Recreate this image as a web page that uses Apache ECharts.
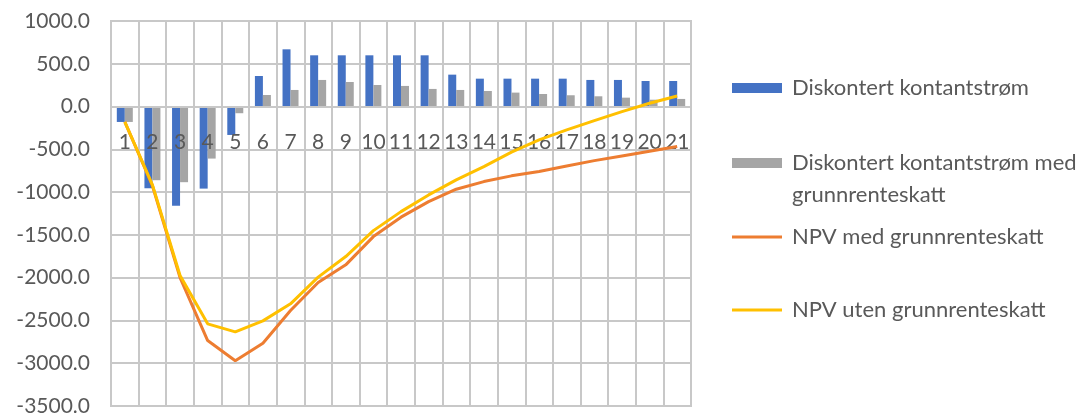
<!DOCTYPE html>
<html>
<head>
<meta charset="utf-8">
<script src="https://cdn.jsdelivr.net/npm/echarts@6/dist/echarts.min.js"></script>
<style>
  html, body { margin: 0; padding: 0; background: #fff; }
  #Root { width: 1087px; height: 416px; }
</style>
</head>
<body>
<div id="Root"></div>
<script>
// years (x categories)
let Years = ["1","2","3","4","5","6","7","8","9","10","11","12","13","14","15","16","17","18","19","20","21"]
// Diskontert kontantstrøm
let CashFlow = [-180, -955, -1158, -959, -332, 357, 669, 599, 599, 599, 599, 599, 373, 326, 326, 326, 326, 311, 311, 299, 299]
// Diskontert kontantstrøm med grunnrenteskatt
let CashFlowTax = [-180, -861, -884, -608, -78, 135, 194, 311, 287, 252, 241, 206, 194, 182, 163, 147, 132, 120, 104, 80, 89]
// NPV med grunnrenteskatt
let NpvTax = [-180, -925, -2000, -2735, -2972, -2766, -2384, -2057, -1850, -1520, -1293, -1111, -966, -877, -810, -760, -694, -632, -577, -522, -468]
// NPV uten grunnrenteskatt
let NpvNoTax = [-180, -915, -1975, -2540, -2633, -2505, -2306, -1994, -1753, -1450, -1228, -1033, -857, -702, -532, -390, -273, -165, -60, 38, 124]

let SeriesNames = ["Diskontert kontantstrøm", "Diskontert kontantstrøm med grunnrenteskatt", "NPV med grunnrenteskatt", "NPV uten grunnrenteskatt"]

let FontName = "Lato"
let TextColor = "#595959"
let GridColor = "#c8c8c8"

let YMin = -3500
let YMax = 1000
let GridTop = 21
let GridBottom = 10
let GridHeight = 416 - GridTop - GridBottom

function MakeLegend(name, top, label, isLine) {
    return {
        data: [name],
        left: 732,
        top: top,
        padding: 0,
        icon: "rect",
        itemWidth: 50,
        itemHeight: isLine ? 3 : 10,
        formatter: function () { return label },
        textStyle: { fontFamily: FontName, fontSize: 22, color: TextColor, lineHeight: 22, padding: [0, 0, 0, 5] }
    }
}

let chart = echarts.init(document.getElementById("Root"))

let options = {
    animation: false,
    grid: {
        left: 111,
        right: 396,
        top: GridTop,
        bottom: GridBottom,
        outerBoundsMode: "none",
        containLabel: false,
        show: true,
        borderColor: GridColor,
        borderWidth: 2
    },
    legend: [
        MakeLegend(SeriesNames[0], 77, "Diskontert kontantstrøm", false),
        MakeLegend(SeriesNames[1], 152, "Diskontert kontantstrøm med", false),
        MakeLegend(SeriesNames[2], 226, "NPV med grunnrenteskatt", true),
        MakeLegend(SeriesNames[3], 299, "NPV uten grunnrenteskatt", true)
    ],
    graphic: [
        {
            type: "text",
            left: 792,
            top: 184,
            style: { text: "grunnrenteskatt", fontFamily: FontName, fontSize: 22, fill: TextColor }
        }
    ],
    xAxis: {
        type: "category",
        data: Years,
        boundaryGap: true,
        position: "bottom",
        z: 3,
        // move the axis up onto the zero line
        offset: -Math.round(GridHeight * (0 - YMin) / (YMax - YMin)),
        axisLine: { onZero: false, lineStyle: { color: GridColor, width: 2 } },
        axisTick: { show: false },
        axisLabel: { color: TextColor, fontFamily: FontName, fontSize: 21, margin: 25, interval: 0 },
        splitLine: { show: true, interval: 0, lineStyle: { color: GridColor, width: 2 } }
    },
    yAxis: {
        type: "value",
        min: YMin,
        max: YMax,
        interval: 500,
        axisLine: { show: true, lineStyle: { color: GridColor, width: 2 } },
        axisTick: { show: false },
        axisLabel: {
            color: TextColor, fontFamily: FontName, fontSize: 21, margin: 21,
            formatter: function (v) { return v.toFixed(1) }
        },
        splitLine: { show: true, lineStyle: { color: GridColor, width: 2 } }
    },
    series: [
        {
            name: SeriesNames[0],
            type: "bar",
            z: 2,
            data: CashFlow,
            barWidth: 8,
            barGap: "0%",
            itemStyle: { color: "#4472C4" }
        },
        {
            name: SeriesNames[1],
            type: "bar",
            z: 2,
            data: CashFlowTax,
            barWidth: 8,
            barGap: "0%",
            itemStyle: { color: "#A5A5A5" }
        },
        {
            name: SeriesNames[2],
            type: "line",
            z: 4,
            data: NpvTax,
            symbol: "none",
            lineStyle: { color: "#ED7D31", width: 3 },
            itemStyle: { color: "#ED7D31" }
        },
        {
            name: SeriesNames[3],
            type: "line",
            z: 4,
            data: NpvNoTax,
            symbol: "none",
            lineStyle: { color: "#FFC000", width: 3 },
            itemStyle: { color: "#FFC000" }
        }
    ]
}

chart.setOption(options)
</script>
</body>
</html>
